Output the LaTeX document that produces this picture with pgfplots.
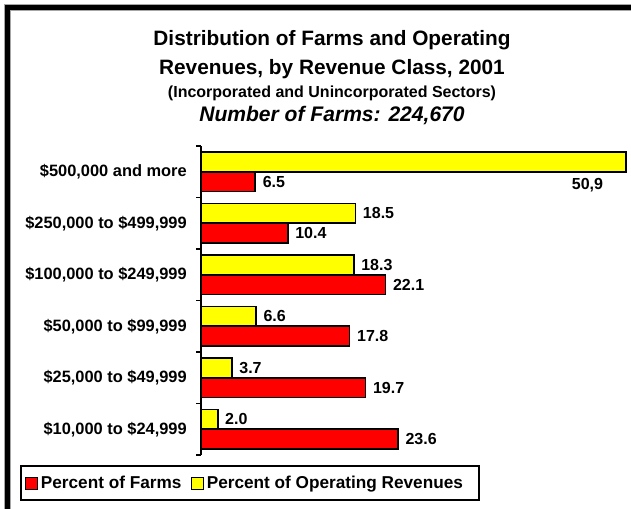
\documentclass[border=0pt]{standalone}
\usepackage{fontspec}
\setmainfont{Liberation Sans}
\usepackage{pgfplots}
\pgfplotsset{compat=1.18}
\usepackage{pgfplotstable}

\definecolor{barred}{RGB}{255,0,0}
\definecolor{baryellow}{RGB}{255,255,0}

% category 0 = bottom row
\pgfplotstableread{
y farms revenue
0 23.6 2.0
1 19.7 3.7
2 17.8 6.6
3 22.1 18.3
4 10.4 18.5
}\rows
\pgfplotstableread{
y revenue lbl
5 50.9 50,9
}\toprow
\pgfplotstableread{
y farms
5 6.5
}\toprowfarms

\begin{document}
\begin{tikzpicture}
\path[use as bounding box] (0,0) rectangle (473.25pt,-381pt);
% frame
\draw[gray!70, line width=5.2pt] (5.5pt,-385pt) -- (5.5pt,-5.5pt) -- (480pt,-5.5pt);
\draw[black, line width=3.8pt] (5.5pt,-385pt) -- (5.5pt,-5.5pt) -- (480pt,-5.5pt);

% titles
\node[anchor=base, inner sep=0pt, font=\bfseries\fontsize{15.6}{18}\selectfont] at (249pt,-34.3pt) {Distribution of Farms and Operating};
\node[anchor=base, inner sep=0pt, font=\bfseries\fontsize{15.6}{18}\selectfont] at (249pt,-55.7pt) {Revenues, by Revenue Class, 2001};
\node[anchor=base, inner sep=0pt, font=\bfseries\fontsize{12}{14}\selectfont] at (249pt,-73.3pt) {(Incorporated and Unincorporated Sectors)};
\node[anchor=base, inner sep=0pt, font=\bfseries\itshape\fontsize{15.8}{18}\selectfont] at (249pt,-91.3pt) {Number of Farms: 224,670};

\begin{axis}[
  at={(150.75pt,-341.25pt)}, anchor=south west,
  scale only axis,
  width=319.5pt, height=231.75pt,
  xbar, bar width=0.38,
  xmin=0, xmax=51,
  ymin=-0.5, ymax=5.5,
  clip=false,
  axis y line=left, axis x line=none,
  axis line style={-, line width=1.2pt},
  ytick={0,...,5},
  yticklabels={{\$10,000 to \$24,999},{\$25,000 to \$49,999},{\$50,000 to \$99,999},{\$100,000 to \$249,999},{\$250,000 to \$499,999},{\$500,000 and more}},
  major tick length=0pt,
  minor ytick={-0.5,0.5,...,5.5},
  minor tick length=3.75pt,
  tick align=outside,
  minor tick style={line width=1.2pt, black},
  yticklabel style={inner sep=0pt, xshift=-10.5pt, font=\bfseries\fontsize{12.3}{14}\selectfont},
  /pgf/number format/assume math mode=true,
  nodes near coords={\pgfmathprintnumber[fixed,fixed zerofill,precision=1]{\pgfplotspointmeta}},
  every node near coord/.append style={font=\bfseries\fontsize{12}{14}\selectfont, inner sep=0pt, xshift=5pt},
  legend columns=2,
  legend style={at={(axis description cs:-0.425,-0.0324)}, anchor=north west,
    draw=black, line width=1.5pt, inner xsep=3pt, inner ysep=5.5pt,
    font=\bfseries\fontsize{12.9}{14}\selectfont,
    /tikz/every even column/.append style={column sep=5pt}},
  legend image code/.code={\draw[#1, line width=1pt] (0pt,-4.5pt) rectangle (9pt,4.5pt);},
]
\addplot[fill=barred, draw=black, line width=1.2pt, bar shift=-0.19] table[x=farms, y=y] {\rows};
\addlegendentry{Percent of Farms}
\addplot[fill=baryellow, draw=black, line width=1.2pt, bar shift=0.19] table[x=revenue, y=y] {\rows};
\addlegendentry{Percent of Operating Revenues\hspace*{7pt}}
\addplot[fill=barred, draw=black, line width=1.2pt, bar shift=-0.19, forget plot] table[x=farms, y=y] {\toprowfarms};
\addplot[fill=baryellow, draw=black, line width=1.2pt, bar shift=0.19, forget plot,
  point meta=explicit symbolic,
  nodes near coords={\pgfplotspointmeta},
  every node near coord/.append style={anchor=center, xshift=-34pt, yshift=-17.6pt}]
  table[x=revenue, y=y, meta=lbl] {\toprow};
\end{axis}
\end{tikzpicture}
\end{document}
